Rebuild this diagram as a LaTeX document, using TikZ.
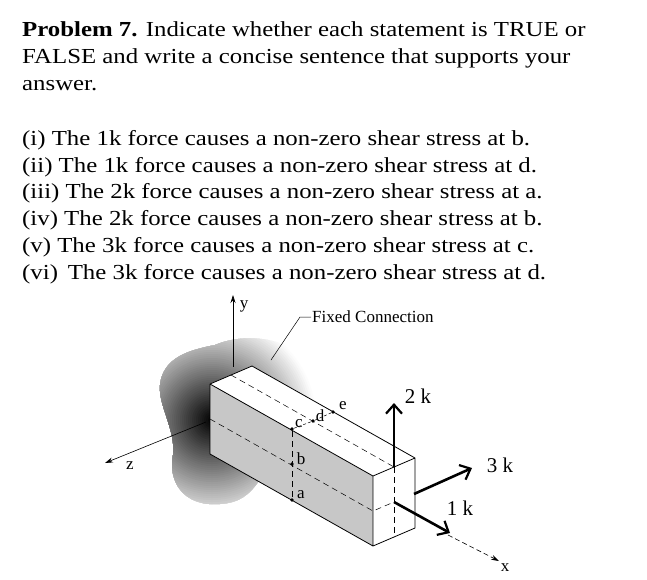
\documentclass[tikz,border=0pt]{standalone}
\usepackage{fontspec}
\setmainfont{Liberation Serif}
\newfontfamily\bodyfont[FakeStretch=1.16]{Liberation Serif}
\usetikzlibrary{arrows.meta}
\begin{document}
\begin{tikzpicture}[x=1pt,y=-1pt,
  txt/.style={anchor=base west,inner sep=0pt,font=\bodyfont\fontsize{21.4}{22}\selectfont},
  lbl/.style={inner sep=1pt,font=\fontsize{17}{18}\selectfont},
  dsh/.style={dash pattern=on 6pt off 4pt,line width=0.5pt},
  edge/.style={line width=0.8pt},
  force/.style={line width=2.6pt,-{Straight Barb[length=9pt,width=16pt,line width=2.2pt]}},
  axis/.style={line width=0.6pt,-{Stealth[length=8pt,width=5pt]}},
  pt/.style={circle,fill=black,inner sep=1.3pt}]
\useasboundingbox (0,0) rectangle (647,579);
\node[txt] (t1) at (22,36) {\textbf{Problem 7.} Indicate whether each statement is TRUE or};
\node[txt] (t2) at (22,63) {FALSE and write a concise sentence that supports your};
\node[txt] (t3) at (22,90) {answer.};
\node[txt] (s1) at (22,145) {(i) The 1k force causes a non-zero shear stress at b.};
\node[txt] (s2) at (22,172) {(ii) The 1k force causes a non-zero shear stress at d.};
\node[txt] (s3) at (22,198) {(iii) The 2k force causes a non-zero shear stress at a.};
\node[txt] (s4) at (22,225) {(iv) The 2k force causes a non-zero shear stress at b.};
\node[txt] (s5) at (22,252) {(v) The 3k force causes a non-zero shear stress at c.};
\node[txt] (s6) at (22,279) {(vi)\, The 3k force causes a non-zero shear stress at d.};
% blob
\begin{scope}
\clip
  (215,345) .. controls (250,330) and (305,340) .. (314,375)
  .. controls (322,405) and (302,420) .. (287,432)
  .. controls (262,470) and (258,502) .. (220,504)
  .. controls (182,507) and (168,480) .. (173,455)
  .. controls (176,430) and (158,405) .. (160,385)
  .. controls (163,357) and (190,350) .. (215,345) -- cycle;
\foreach \r in {120,118,...,2}{
  \pgfmathsetmacro\g{min(100,max(0,100*(1-\r/105)))}
  \fill[black!\g] (212,420) circle[radius=\r];
}
\end{scope}
% box
\coordinate (A) at (210,384); \coordinate (B) at (252,366);
\coordinate (C) at (415,458); \coordinate (D) at (373,476);
\coordinate (E) at (210,454); \coordinate (F) at (373,546);
\coordinate (G) at (415,528);
\fill[white] (A)--(B)--(C)--(D)--cycle;
\fill[black!22] (A)--(D)--(F)--(E)--cycle;
\fill[white] (D)--(C)--(G)--(F)--cycle;
\draw[edge,line join=round] (A)--(B)--(C)--(G)--(F)--(E)--cycle (A)--(D)--(C) (D)--(F);
% dashed lines
\coordinate (tc1) at (231,375); \coordinate (tc2) at (394,467);
\draw[dsh] (tc1)--(tc2);
\coordinate (fc1) at (210,419); \coordinate (fc2) at (373,511); \coordinate (ec) at (394,502);
\draw[dsh] (fc1)--(fc2)--(ec);
\coordinate (eb) at (394,537);
\draw[dsh] (tc2)--(eb);
\node[pt] (c) at (292,429) {}; \node[pt] (b) at (292,464) {}; \node[pt] (a) at (292,500) {};
\node[pt] (d) at (313,421) {}; \node[pt] (e) at (333,412) {};
\draw[dsh] (c)--(a);
\draw[line width=0.5pt,dash pattern=on 3pt off 2pt] (c)--(d)--(e);
\node[lbl] (lc) at (299,424) {c};
\node[lbl] (ld) at (320,416) {d};
\node[lbl] (le) at (343,406) {e};
\node[lbl] (lb) at (301,459) {b};
\node[lbl] (la) at (301,495) {a};
% axes
\coordinate (y0) at (233,367); \coordinate (y1) at (233,295);
\draw[axis] (y0)--(y1); \node[lbl] (ylab) at (244,306) {y};
\coordinate (z0) at (206,422); \coordinate (z1) at (105,463);
\draw[axis] (z0)--(z1); \node[lbl] (zlab) at (130,466) {z};
\coordinate (x0) at (448,535); \coordinate (x1) at (499,561);
\draw[axis,dash pattern=on 5pt off 3pt] (x0)--(x1); \node[lbl] (xlab) at (505,568) {x};
% fixed connection
\node[lbl,anchor=west,font=\fontsize{17}{18}\selectfont] (fix) at (311,317) {Fixed Connection};
\coordinate (f1) at (300,317); \coordinate (f2) at (271,360);
\draw[line width=0.5pt] (fix.west)--(f1)--(f2);
% forces
\coordinate (p2) at (394,403);
\draw[force] (tc2)--(p2); \node[lbl,font=\fontsize{21}{22}\selectfont] (l2) at (418,396) {2 k};
\coordinate (s3) at (414,494); \coordinate (p3) at (472,468);
\draw[force] (s3)--(p3);
\node[lbl,font=\fontsize{21}{22}\selectfont] (l3) at (500,465) {3 k};
\coordinate (p1) at (450,533);
\draw[force] (ec)--(p1); \node[lbl,font=\fontsize{21}{22}\selectfont] (l1) at (460,508) {1 k};
\end{tikzpicture}
\end{document}
